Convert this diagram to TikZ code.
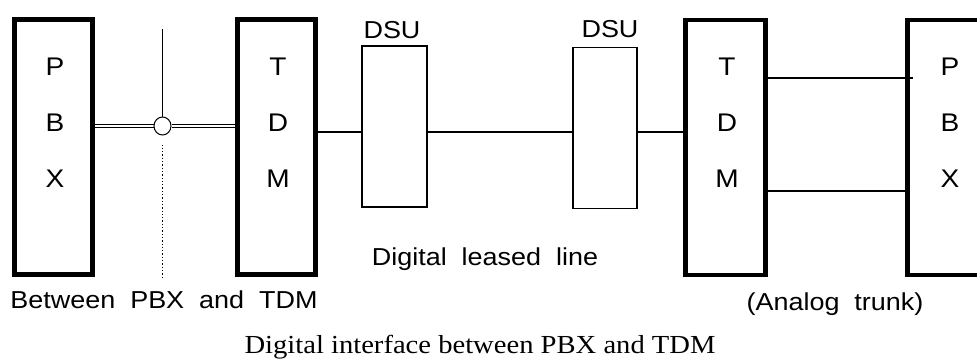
\documentclass[tikz,border=0pt]{standalone}
\usepackage{fontspec}
\newfontfamily\arialx[FakeStretch=1.1]{Liberation Sans}
\newfontfamily\timesx[FakeStretch=1.1]{Liberation Serif}
\usetikzlibrary{positioning,shapes.geometric}
\tikzset{
  unit/.style={draw,line width=4.5pt,minimum width=78pt,minimum height=255pt,inner sep=0pt},
  dsubox/.style={draw,line width=1.4pt,minimum width=65pt,minimum height=161pt,inner sep=0pt},
  letter/.style={font=\arialx\fontsize{25.5}{28}\selectfont,inner sep=0pt,anchor=base},
  tag/.style={font=\arialx\fontsize{24.5}{28}\selectfont,inner sep=0pt,anchor=base},
  wire/.style={line width=1.3pt},
  rail/.style={line width=0.8pt},
}
\begin{document}
\begin{tikzpicture}[x=1pt,y=-1pt]
    \useasboundingbox (0,0) rectangle (977,359);
    % units
    \node[unit] (pbxL) at (53.25,147) {};
    \node[unit] (tdmL) at (276.5,147) {};
    \node[unit,minimum width=80pt] (tdmR) at (725.5,147.5) {};
    \node[unit,minimum width=80pt] (pbxR) at (947.5,147.5) {};
    \node[dsubox] (dsuA) at (394.5,126.5) {};
    \node[dsubox,minimum width=64pt] (dsuB) at (605,128) {};
    \foreach \c/\d/\yy in {P/T/75,B/D/131,X/M/187} {
      \node[letter] (pbxL-\c) at (55,\yy) {\c};
      \node[letter] (tdmL-\d) at (278,\yy) {\d};
      \node[letter] (tdmR-\d) at (727,\yy) {\d};
      \node[letter] (pbxR-\c) at (950,\yy) {\c};
    }
    \node[tag] (dsuA-t) at (392,38) {DSU};
    \node[tag] (dsuB-t) at (610,37) {DSU};
    \node[tag] (between) at (164,308) {Between~~PBX~~and~~TDM};
    \node[tag] (leased) at (485,265) {Digital~~leased~~line};
    \node[tag] (trunk) at (835,310) {(Analog~~trunk)};
    \node[font=\timesx\fontsize{26}{30}\selectfont,inner sep=0pt,anchor=base] (caption)
      at (480,353) {Digital interface between PBX and TDM};
    % interface point
    \node[draw,ellipse,minimum width=17pt,minimum height=18pt,inner sep=0pt,line width=1pt] (jc) at (162.5,126) {};
    \coordinate (mast) at (162.5,29);
    \coordinate (foot) at (162.5,278);
    \coordinate (dl) at (pbxL.east |- jc);
    \coordinate (dr) at (tdmL.west |- jc);
    \foreach \s in {-1.3,1.3} {
      \draw[rail] ([yshift=\s pt]dl) -- ([yshift=\s pt]jc.west);
      \draw[rail] ([yshift=\s pt]jc.east) -- ([yshift=\s pt]dr);
    }
    \path (mast) edge[wire] (jc.north);
    \path ([yshift=-9pt]jc.south) edge[wire,dotted] (foot);
    % leased line
    \coordinate (lk) at (0,132);
    \path (tdmL.east |- lk) edge[wire] (dsuA.west |- lk);
    \path (dsuA.east |- lk) edge[wire] (dsuB.west |- lk);
    \path (dsuB.east |- lk) edge[wire] (tdmR.west |- lk);
    % analog trunk
    \coordinate (tk1) at (913,78);
    \coordinate (tk2) at (910,191);
    \path (tdmR.east |- tk1) edge[wire] (tk1);
    \path (tdmR.east |- tk2) edge[wire] (tk2);
\end{tikzpicture}
\end{document}
